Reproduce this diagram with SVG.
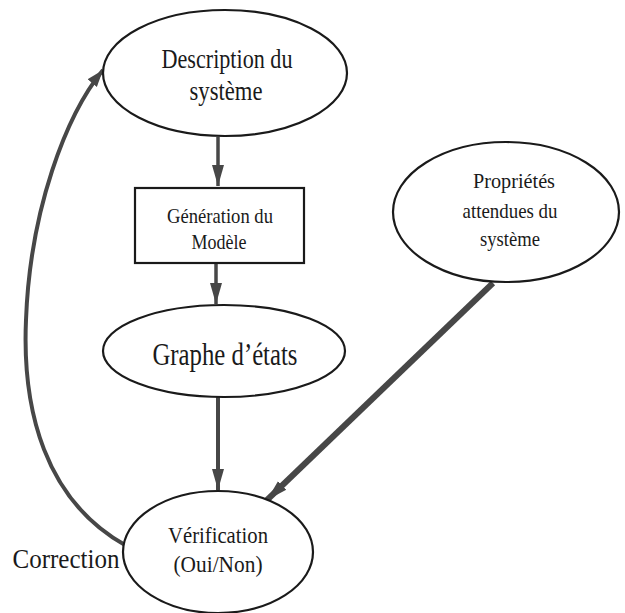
<svg xmlns="http://www.w3.org/2000/svg" width="625" height="613" viewBox="0 0 625 613">
<style>
.node ellipse, .node rect { fill: #ffffff; stroke: #1a1a1a; stroke-width: 2.2; }
.t { font-family: "Liberation Serif", "Times New Roman", serif; fill: #1a1a1a; text-anchor: middle; }
.conn { fill: none; stroke: #474747; stroke-linecap: butt; }
</style>
<defs>
<marker id="ah" markerUnits="userSpaceOnUse" markerWidth="22" markerHeight="14" refX="21" refY="7" orient="auto">
<path d="M0,1 L21,7 L0,13 z" fill="#474747"/>
</marker>
<marker id="ahs" markerUnits="userSpaceOnUse" markerWidth="18" markerHeight="14" refX="17" refY="7" orient="auto">
<path d="M0,1 L17,7 L0,13 z" fill="#474747"/>
</marker>
</defs>
<rect width="625" height="613" fill="#ffffff"/>

<g id="connectors">
<line class="conn" x1="218" y1="137" x2="218" y2="186" stroke-width="3.5" marker-end="url(#ah)"/>
<line class="conn" x1="216" y1="263" x2="216" y2="304" stroke-width="3.5" marker-end="url(#ah)"/>
<line class="conn" x1="218" y1="397" x2="218" y2="490" stroke-width="4" marker-end="url(#ah)"/>
<line class="conn" x1="493" y1="283" x2="267" y2="500" stroke-width="6" marker-end="url(#ah)"/>
<path class="conn" d="M125,545 C45,500 22,410 26,320 C30,210 66,115 103,70" stroke-width="4" marker-end="url(#ahs)"/>
</g>

<g id="description" class="node">
<ellipse cx="225" cy="73" rx="122" ry="63"/>
<text class="t" x="227" y="68" font-size="27" textLength="131" lengthAdjust="spacingAndGlyphs">Description du</text>
<text class="t" x="226" y="100" font-size="27" textLength="73" lengthAdjust="spacingAndGlyphs">système</text>
</g>

<g id="generation" class="node">
<rect x="135" y="188" width="169" height="75"/>
<text class="t" x="220" y="223" font-size="21" textLength="106" lengthAdjust="spacingAndGlyphs">Génération du</text>
<text class="t" x="219" y="249" font-size="21" textLength="55" lengthAdjust="spacingAndGlyphs">Modèle</text>
</g>

<g id="graphe" class="node">
<ellipse cx="224" cy="351" rx="121" ry="46"/>
<text class="t" x="225" y="365" font-size="31" textLength="145" lengthAdjust="spacingAndGlyphs">Graphe d’états</text>
</g>

<g id="proprietes" class="node">
<ellipse cx="506" cy="212" rx="113" ry="70"/>
<text class="t" x="514" y="188" font-size="21" textLength="82" lengthAdjust="spacingAndGlyphs">Propriétés</text>
<text class="t" x="510" y="218" font-size="21" textLength="95" lengthAdjust="spacingAndGlyphs">attendues du</text>
<text class="t" x="510" y="246" font-size="21" textLength="60" lengthAdjust="spacingAndGlyphs">système</text>
</g>

<g id="verification" class="node">
<ellipse cx="218" cy="552" rx="95" ry="61"/>
<text class="t" x="218" y="543" font-size="23" textLength="100" lengthAdjust="spacingAndGlyphs">Vérification</text>
<text class="t" x="218" y="572" font-size="23" textLength="89" lengthAdjust="spacingAndGlyphs">(Oui/Non)</text>
</g>

<g id="correction-label">
<text class="t" x="66" y="568" font-size="27" textLength="107" lengthAdjust="spacingAndGlyphs">Correction</text>
</g>
</svg>
